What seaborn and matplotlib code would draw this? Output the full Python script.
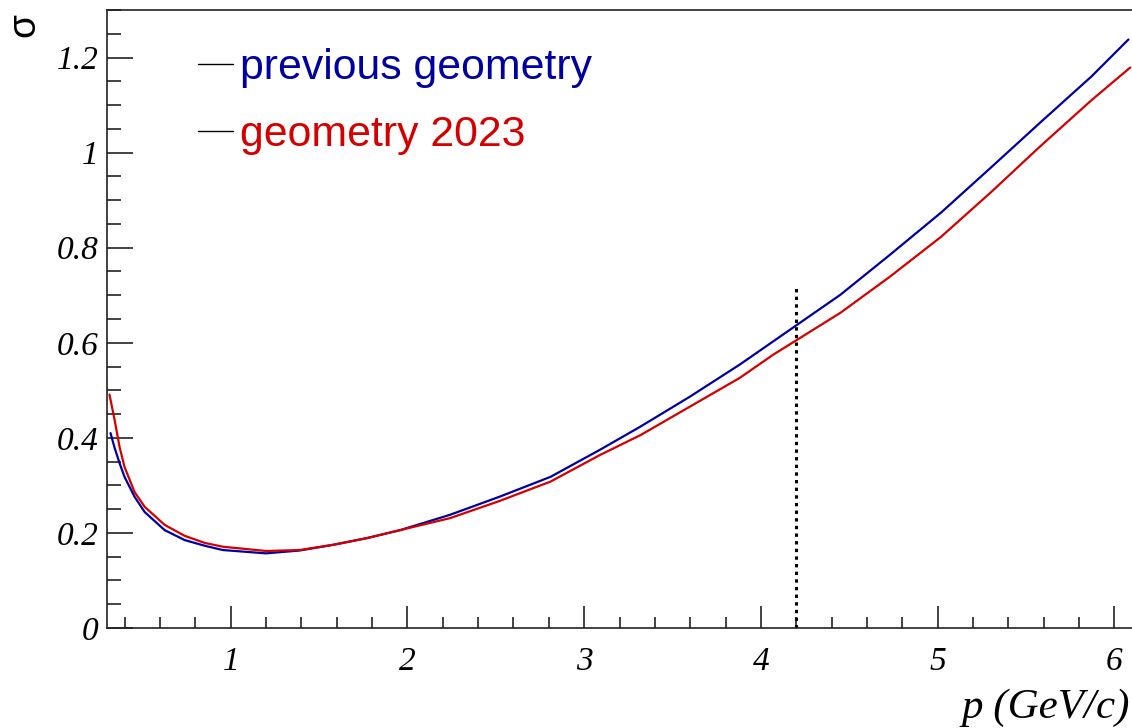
import numpy as np
import pandas as pd
import seaborn as sns
import matplotlib
matplotlib.use("Agg")
import matplotlib.pyplot as plt
from matplotlib.lines import Line2D
from matplotlib.ticker import MultipleLocator, FuncFormatter

# momentum (GeV/c) and resolution for each geometry
p_prev = [0.320, 0.343, 0.371, 0.399, 0.456, 0.513, 0.626, 0.739, 0.853, 0.955,
          1.20, 1.39, 1.58, 1.77, 1.96, 2.24, 2.52, 2.81, 3.09, 3.32, 3.60, 3.88,
          4.07, 4.45, 4.73, 5.02, 5.30, 5.58, 5.87, 6.08]
sigma_prev = [0.410, 0.379, 0.347, 0.318, 0.276, 0.244, 0.206, 0.185, 0.173, 0.164,
              0.157, 0.163, 0.175, 0.189, 0.206, 0.238, 0.276, 0.318, 0.375, 0.424,
              0.487, 0.554, 0.603, 0.701, 0.785, 0.874, 0.968, 1.063, 1.160, 1.238]

p_2023 = [0.314, 0.343, 0.371, 0.399, 0.456, 0.513, 0.626, 0.739, 0.853, 0.955,
          1.20, 1.39, 1.58, 1.77, 1.96, 2.24, 2.52, 2.81, 3.09, 3.32, 3.60, 3.88,
          4.07, 4.45, 4.73, 5.02, 5.30, 5.58, 5.87, 6.09]
sigma_2023 = [0.491, 0.438, 0.381, 0.339, 0.286, 0.255, 0.217, 0.194, 0.179, 0.171,
              0.162, 0.164, 0.175, 0.189, 0.206, 0.231, 0.267, 0.308, 0.364, 0.406,
              0.466, 0.526, 0.575, 0.663, 0.739, 0.823, 0.916, 1.013, 1.110, 1.179]

labels = ["previous geometry", "geometry 2023"]
colors = ["#0000a0", "#d40000"]

p_cut = 4.2
cut_top = 0.72

df = pd.concat([
    pd.DataFrame({"p": p_prev, "sigma": sigma_prev, "geometry": labels[0]}),
    pd.DataFrame({"p": p_2023, "sigma": sigma_2023, "geometry": labels[1]}),
])

sns.set_theme(style="ticks")
plt.rcParams["font.family"] = ["Liberation Serif", "DejaVu Serif"]

fig = plt.figure(figsize=(11.32, 7.28), dpi=100)
ax = fig.add_axes([107 / 1132, 1 - 628 / 728, 1.0 - 107 / 1132, (628 - 10) / 728])

sns.lineplot(data=df, x="p", y="sigma", hue="geometry", hue_order=labels,
             palette=colors, linewidth=1.6, legend=False, ax=ax, sort=True)

ax.vlines(p_cut, 0, cut_top, colors="black", linewidth=2.2,
          linestyles=[(0, (1.1, 1.4))])

ax.set_xlim(0.3, 6.1)
ax.set_ylim(0, 1.3)

ax.xaxis.set_major_locator(MultipleLocator(1))
ax.xaxis.set_minor_locator(MultipleLocator(0.2))
ax.yaxis.set_major_locator(MultipleLocator(0.2))
ax.yaxis.set_minor_locator(MultipleLocator(0.05))

fmt = FuncFormatter(lambda v, pos: ("%g" % round(v, 2)))
ax.xaxis.set_major_formatter(fmt)
ax.yaxis.set_major_formatter(fmt)

for spine in ["left", "bottom", "top"]:
    ax.spines[spine].set_linewidth(1.2)
    ax.spines[spine].set_color("#222222")
ax.spines["right"].set_visible(False)

ax.tick_params(axis="y", which="major", direction="in", length=19, width=1.2,
               color="#222222", pad=6, labelsize=24, labelcolor="black")
ax.tick_params(axis="y", which="minor", direction="in", length=10, width=1.2,
               color="#222222")
ax.tick_params(axis="x", which="major", direction="in", length=16, width=1.2,
               color="#222222", pad=13, labelsize=24, labelcolor="black")
ax.tick_params(axis="x", which="minor", direction="in", length=8, width=1.2,
               color="#222222")
for lab in ax.get_xticklabels() + ax.get_yticklabels():
    lab.set_fontstyle("italic")

ax.set_xlabel("")
ax.set_ylabel("")
fig.text(1130 / 1132, 1 - 708 / 728, "p (GeV/c)", ha="right", va="center",
         fontsize=31, fontstyle="italic", family=["Liberation Serif"],
         color="black")
fig.text(24 / 1132, 1 - 13 / 728, "σ", ha="center", va="top", rotation=90,
         fontsize=28, family=["Liberation Sans", "DejaVu Sans"], color="black")

handles = [Line2D([], [], color="black", linewidth=1.0) for _ in labels]
leg = ax.legend(handles, labels, loc="upper left", bbox_to_anchor=(0.072, 0.966),
                frameon=False, handlelength=0.83, handletextpad=0.16,
                labelspacing=0.62, borderaxespad=0,
                prop={"family": "Liberation Sans", "size": 30.8})
for txt, c in zip(leg.get_texts(), colors):
    txt.set_color(c)

fig.savefig("out.png", dpi=100)
